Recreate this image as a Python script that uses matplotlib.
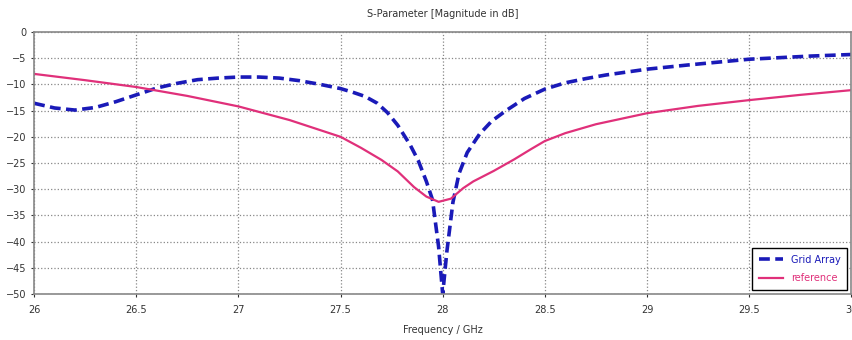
import numpy as np
import matplotlib.pyplot as plt

# Grid Array
freq_grid = [26.0, 26.1, 26.2, 26.3, 26.4, 26.5, 26.6, 26.7, 26.8, 26.9, 27.0, 27.1,
             27.2, 27.3, 27.4, 27.5, 27.56, 27.62, 27.68, 27.73, 27.78, 27.84, 27.88,
             27.92, 27.95, 27.98, 28.0, 28.02, 28.05, 28.08, 28.12, 28.18, 28.24, 28.31,
             28.4, 28.5, 28.6, 28.7, 28.8, 29.0, 29.2, 29.5, 29.8, 30.0]
s11_grid = [-13.6, -14.5, -14.9, -14.4, -13.3, -12.0, -10.7, -9.8, -9.1, -8.8, -8.6, -8.6,
            -8.8, -9.3, -10.0, -10.8, -11.5, -12.3, -13.6, -15.4, -17.8, -21.5, -24.5,
            -28.5, -32.0, -41.0, -50.0, -42.0, -32.5, -27.0, -23.0, -19.5, -17.0, -15.0,
            -12.7, -10.9, -9.7, -8.9, -8.2, -7.1, -6.3, -5.2, -4.6, -4.3]

# reference
freq_ref = [26.0, 26.25, 26.5, 26.75, 27.0, 27.25, 27.5, 27.6, 27.7, 27.78, 27.86,
            27.92, 27.98, 28.04, 28.1, 28.15, 28.25, 28.35, 28.43, 28.5, 28.6, 28.75,
            29.0, 29.25, 29.5, 29.75, 30.0]
s11_ref = [-8.0, -9.2, -10.5, -12.2, -14.2, -16.8, -20.0, -22.1, -24.4, -26.6, -29.6,
           -31.4, -32.4, -31.8, -29.8, -28.5, -26.5, -24.3, -22.4, -20.8, -19.3, -17.6,
           -15.5, -14.1, -13.0, -12.0, -11.1]

plt.rcParams['font.family'] = 'DejaVu Sans'
plt.rcParams['font.size'] = 7

fig = plt.figure(figsize=(8.53, 3.4), dpi=100)
ax = fig.add_axes([0.04, 0.135, 0.958, 0.771])

ax.plot(freq_grid, s11_grid, color='#1a1ab8', lw=2.6, ls=(0, (3, 1.5)), label='Grid Array')
ax.plot(freq_ref, s11_ref, color='#e0307a', lw=1.6, label='reference')

ax.set_xlim(26, 30)
ax.set_ylim(-50, 0)
ax.set_xticks(np.arange(26, 30.01, 0.5))
ax.set_xticklabels(['26', '26.5', '27', '27.5', '28', '28.5', '29', '29.5', '30'])
ax.set_yticks(np.arange(-50, 0.1, 5))
ax.grid(True, ls=':', color='#888888', lw=0.9)
ax.tick_params(length=2, colors='#333333', labelsize=7)
ax.tick_params(axis='x', pad=6)
for s in ax.spines.values():
    s.set_color('#888888')
    s.set_linewidth(1.2)

ax.set_title('S-Parameter [Magnitude in dB]', fontsize=7, color='#333333', pad=11)
ax.set_xlabel('Frequency / GHz', fontsize=7, color='#333333', labelpad=7)

leg = ax.legend(loc='lower right', fontsize=7, fancybox=False, framealpha=1,
                edgecolor='black', borderaxespad=0.4, handlelength=2.5,
                labelspacing=0.9, borderpad=0.7)
for t, c in zip(leg.get_texts(), ['#1a1ab8', '#e0307a']):
    t.set_color(c)

fig.savefig('out.png', dpi=100)
